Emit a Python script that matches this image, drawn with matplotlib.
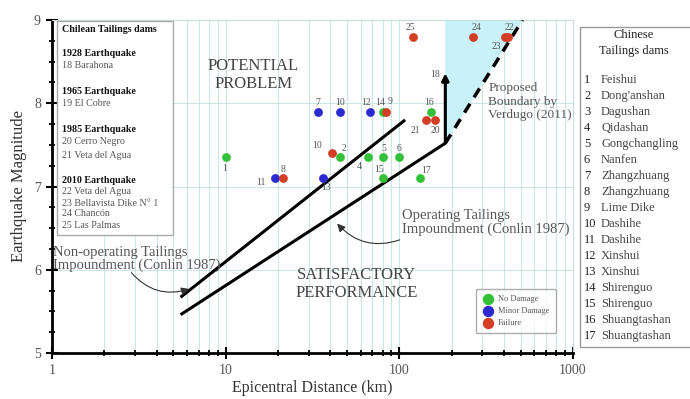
import matplotlib.pyplot as plt
from matplotlib.patches import Rectangle, Polygon
from matplotlib.ticker import LogLocator, MultipleLocator, FixedLocator, FixedFormatter

plt.rcParams['font.family'] = ['Liberation Serif', 'DejaVu Serif']

# case histories: distance (km), magnitude, label, status (0 no damage, 1 minor, 2 failure)
dist = [10, 45.7, 66, 81, 100, 81, 132, 19.3, 21.4, 36.5, 41,
        34, 45.7, 68, 80, 84, 153, 143, 161, 120, 264, 408, 425]
mag = [7.35, 7.35, 7.35, 7.35, 7.35, 7.1, 7.1, 7.1, 7.1, 7.1, 7.4,
       7.9, 7.9, 7.9, 7.9, 7.9, 7.9, 7.8, 7.8, 8.8, 8.8, 8.8, 8.8]
ids = ['1', '2', '4', '5', '6', '15', '17', '11', '8', '13', '10',
       '7', '10', '12', '14', '9', '16', '21', '20', '25', '24', '22', '23']
status = [0, 0, 0, 0, 0, 0, 0, 1, 2, 1, 2,
          1, 1, 1, 0, 2, 0, 2, 2, 2, 2, 2, 2]
status_names = ['No Damage', 'Minor Damage', 'Failure']

# Conlin (1987) limits and Verdugo (2011) boundary
nonop_x = [5.5, 108]
nonop_y = [5.67, 7.8]
op_x = [5.5, 184]
op_y = [5.46, 7.52]
op_top = 8.36
verdugo_x = [184, 512]
verdugo_y = [7.52, 9.0]

chilean = [('Chilean Tailings dams', True),
           ('1928 Earthquake', True), ('18 Barahona', False),
           ('1965 Earthquake', True), ('19 El Cobre', False),
           ('1985 Earthquake', True), ('20 Cerro Negro', False), ('21 Veta del Agua', False),
           ('2010 Earthquake', True), ('22 Veta del Agua', False),
           ('23 Bellavista Dike N\u00b0 1', False), ('24 Chanc\u00f3n', False),
           ('25 Las Palmas', False)]
chinese = ['Feishui', "Dong'anshan", 'Dagushan', 'Qidashan', 'Gongchangling', 'Nanfen',
           'Zhangzhuang', 'Zhangzhuang', 'Lime Dike', 'Dashihe', 'Dashihe', 'Xinshui',
           'Xinshui', 'Shirenguo', 'Shirenguo', 'Shuangtashan', 'Shuangtashan']

colors = ['#33c13a', '#2a2ad0', '#d23f26']
gray = '#555555'

fig = plt.figure(figsize=(6.9, 3.99), dpi=100)
ax = fig.add_axes([52/690, 46/399, 521/690, 333/399])
ax.set_xscale('log')
ax.set_xlim(1, 1000)
ax.set_ylim(5, 9)

# grid
ax.xaxis.set_minor_locator(LogLocator(base=10, subs=range(2, 10)))
ax.yaxis.set_major_locator(MultipleLocator(1))
ax.yaxis.set_minor_locator(MultipleLocator(0.25))
ax.grid(which='both', axis='x', color='#c6e6e6', lw=0.7)
ax.grid(which='major', axis='y', color='#c6e6e6', lw=0.7)
ax.set_axisbelow(True)

for s in ['left', 'bottom']:
    ax.spines[s].set_linewidth(2)
for s in ['top', 'right']:
    ax.spines[s].set_color('#c6dede')
ax.tick_params(which='major', direction='inout', length=9, width=1.5, labelsize=10,
               labelcolor=gray, top=False, right=False)
ax.tick_params(which='minor', direction='inout', length=5, width=1.3, top=False, right=False)
ax.xaxis.set_major_locator(FixedLocator([1, 10, 100, 1000]))
ax.xaxis.set_major_formatter(FixedFormatter(['1', '10', '100', '1000']))
ax.xaxis.set_minor_formatter(FixedFormatter([]))
ax.set_xlabel('Epicentral Distance (km)', fontsize=11.5, color='#333333', labelpad=2)
ax.set_ylabel('Earthquake Magnitude', fontsize=12, color='#333333', labelpad=5)

# shaded proposed region
ax.add_patch(Polygon([(verdugo_x[0], verdugo_y[0]), (verdugo_x[1], verdugo_y[1]),
                      (verdugo_x[0], 9.0)], closed=True, facecolor='#c9f1f8',
                     edgecolor='none', zorder=1))
ax.plot(verdugo_x, verdugo_y, color='black', lw=2.5, ls=(0, (3, 2.2)), zorder=3)

ax.plot(nonop_x, nonop_y, color='black', lw=2.2, zorder=3, solid_capstyle='butt')
ax.plot(op_x, op_y, color='black', lw=2.2, zorder=3, solid_capstyle='butt')
ax.annotate('', xy=(op_x[1], op_top), xytext=(op_x[1], op_y[1]),
            arrowprops=dict(arrowstyle='-|>', lw=2.2, color='black', mutation_scale=10,
                            shrinkA=0, shrinkB=0), zorder=3)
ax.annotate('18', xy=(op_x[1], op_top), xytext=(-4, -4), textcoords='offset points',
            ha='right', va='bottom', fontsize=7, color=gray)

# points
for k, name in enumerate(status_names):
    xs = [d for d, s in zip(dist, status) if s == k]
    ys = [m for m, s in zip(mag, status) if s == k]
    ax.scatter(xs, ys, s=40, color=colors[k], linewidths=0, zorder=4, label=name)

offsets = {0: (-1, -11), 1: (3, 3), 2: (-6, -10), 3: (0, 3), 4: (0, 3), 5: (-3, 3),
           6: (4, 2), 7: (-10, -6), 8: (0, 3), 9: (2, -10), 10: (-11, 2),
           11: (0, 3), 12: (0, 3), 13: (-3, 3), 14: (-2, 3), 15: (3, 4), 16: (-2, 3),
           17: (-8, -11), 18: (0, -11), 19: (-2, 3), 20: (3, 3), 21: (3, 3), 22: (-9, -10)}
for i, lab in enumerate(ids):
    dx, dy = offsets[i]
    ax.annotate(lab, xy=(dist[i], mag[i]), xytext=(dx, dy), textcoords='offset points',
                ha='center', va='bottom', fontsize=7, color=gray, zorder=5)

# region texts
ax.text(14.4, 8.34, 'POTENTIAL\nPROBLEM', ha='center', va='center', fontsize=12,
        color='#444444', linespacing=1.1)
ax.text(56.5, 5.83, 'SATISFACTORY\nPERFORMANCE', ha='center', va='center', fontsize=12,
        color='#444444', linespacing=1.1)
ax.text(326, 8.25, 'Proposed\nBoundary by\nVerdugo (2011)', ha='left', va='top',
        fontsize=9.5, color=gray, linespacing=1.15)

# Conlin annotations
ax.text(1.02, 6.13, 'Non-operating Tailings\nImpoundment (Conlin 1987)', ha='left',
        va='center', fontsize=10.5, color=gray, linespacing=1.0)
ax.annotate('', xy=(6.4, 5.78), xytext=(2.8, 5.99),
            arrowprops=dict(arrowstyle='-|>', lw=0.8, color='#333333',
                            connectionstyle='arc3,rad=0.35', mutation_scale=12))
ax.text(104, 6.57, 'Operating Tailings\nImpoundment (Conlin 1987)', ha='left',
        va='center', fontsize=10.5, color=gray, linespacing=1.0)
ax.annotate('', xy=(42.8, 6.58), xytext=(104, 6.37),
            arrowprops=dict(arrowstyle='-|>', lw=0.8, color='#333333',
                            connectionstyle='arc3,rad=-0.35', mutation_scale=12))

# legend
leg = ax.legend(loc='upper left', bbox_to_anchor=(0.806, 0.206), fontsize=6,
                frameon=True, fancybox=True, edgecolor='#999999', handletextpad=0.6,
                borderpad=0.8, labelspacing=0.45, markerscale=1.3, handlelength=1.2)
for t in leg.get_texts():
    t.set_color(gray)

# Chilean box inside the axes
ax.add_patch(Rectangle((0.0096, 0.354), 0.2225, 0.643, transform=ax.transAxes,
                       facecolor='white', edgecolor='#aaaaaa', lw=1, zorder=6))
ypix = [30, 54, 66, 92, 104, 130, 142, 155, 180, 192, 203, 214, 226]
for (txt, bold), py in zip(chilean, ypix):
    ax.text(0.02, (353 - py) / 333, txt, transform=ax.transAxes, ha='left',
            va='center', fontsize=7.2, zorder=7,
            fontweight='bold' if bold else 'normal',
            color='#111111' if bold else gray)

# Chinese box outside the axes
fig.add_artist(Rectangle((580/690, 52/399), 0.2, 320/399, transform=fig.transFigure,
                         facecolor='white', edgecolor='#999999', lw=1))
fig.text(634/690, 1 - 35/399, 'Chinese', ha='center', va='center', fontsize=9,
         color='#222222')
fig.text(634/690, 1 - 51/399, 'Tailings dams', ha='center', va='center', fontsize=9,
         color='#222222')
for i, name in enumerate(chinese):
    y = 1 - (80 + 16 * i) / 399
    fig.text(584/690, y, str(i + 1), ha='left', va='center', fontsize=9, color='#222222')
    fig.text(601/690, y, name, ha='left', va='center', fontsize=9, color='#444444')

fig.savefig('out.png', dpi=100)
